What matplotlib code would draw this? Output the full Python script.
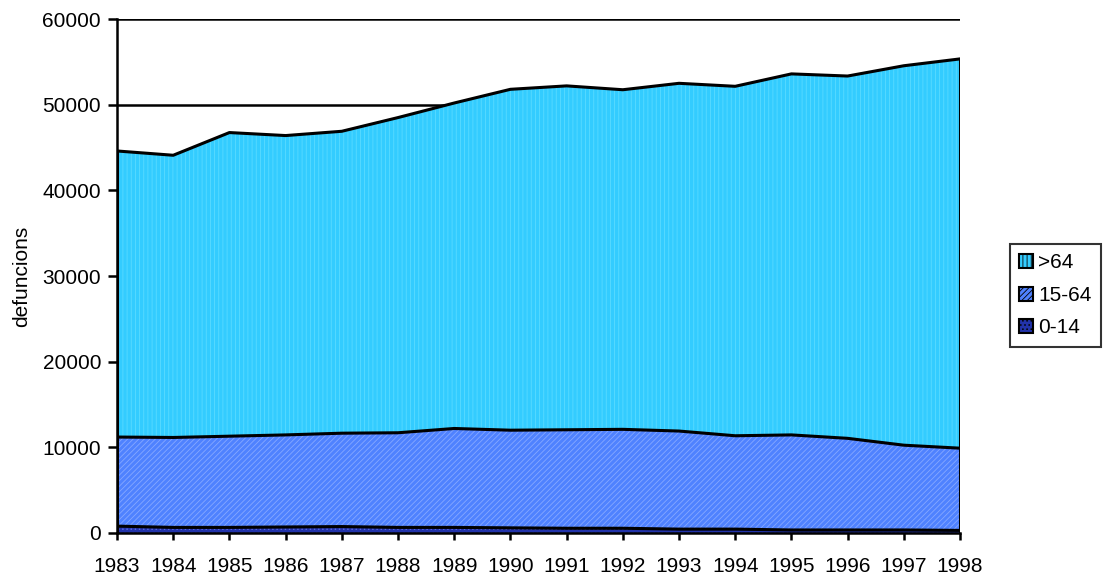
import matplotlib
matplotlib.use("Agg")
import matplotlib.pyplot as plt
import numpy as np
from matplotlib.patches import Patch

years = [1983, 1984, 1985, 1986, 1987, 1988, 1989, 1990, 1991, 1992, 1993, 1994, 1995, 1996, 1997, 1998]
age_0_14 = [800, 650, 650, 700, 750, 650, 650, 600, 550, 550, 450, 450, 350, 350, 350, 300]
age_15_64 = [10400, 10500, 10650, 10750, 10900, 11050, 11550, 11400, 11500, 11550, 11450, 10900, 11100, 10700, 9900, 9600]
age_65_plus = [33400, 32950, 35450, 34950, 35250, 36800, 38000, 39800, 40150, 39650, 40600, 40800, 42150, 42300, 44300, 45450]
labels = [">64", "15-64", "0-14"]
y_ticks = [0, 10000, 20000, 30000, 40000, 50000, 60000]

plt.rcParams['font.family'] = ['Liberation Sans', 'DejaVu Sans']
plt.rcParams['hatch.linewidth'] = 0.6

fig = plt.figure(figsize=(11.06, 5.78), dpi=100)
ax = fig.add_axes([0.1058, 0.0779, 0.868 - 0.1058, 0.967 - 0.0779])

x = np.array(years)
a = np.array(age_0_14)
b = a + np.array(age_15_64)
c = b + np.array(age_65_plus)

for yv in y_ticks[1:]:
    ax.axhline(yv, color='black', lw=1.8, zorder=0)

face = ['#33CCFF', '#4F82FF', '#2233AA']
hcol = ['#5ADBFF', '#86A8FF', '#5566DD']
hatches = ['||||', '//////', '....']

ax.fill_between(x, b, c, facecolor=face[0], edgecolor=hcol[0], hatch=hatches[0], lw=0, zorder=1)
ax.fill_between(x, a, b, facecolor=face[1], edgecolor=hcol[1], hatch=hatches[1], lw=0, zorder=1)
ax.fill_between(x, 0, a, facecolor=face[2], edgecolor=hcol[2], hatch=hatches[2], lw=0, zorder=1)

ax.plot(x, c, color='black', lw=2.2, zorder=3)
ax.plot(x, b, color='black', lw=2.2, zorder=3)
ax.plot(x, a, color='black', lw=2.2, zorder=3)
ax.plot([x[-1], x[-1]], [0, c[-1]], color='black', lw=2.2, zorder=3)
ax.plot([x[0], x[0]], [0, c[0]], color='black', lw=2.2, zorder=3)

ax.set_xlim(years[0], years[-1])
ax.set_ylim(0, 60000)
ax.set_xticks(years)
ax.set_xticklabels([str(y) for y in years])
ax.set_yticks(y_ticks)
ax.set_yticklabels([str(v) for v in y_ticks])
ax.tick_params(axis='both', labelsize=15, direction='out', width=1.8, colors='black')
ax.tick_params(axis='y', length=6.5, pad=5)
ax.tick_params(axis='x', length=5, pad=12)

for s in ['top', 'right']:
    ax.spines[s].set_visible(False)
for s in ['left', 'bottom']:
    ax.spines[s].set_linewidth(1.8)
    ax.spines[s].set_color('black')

ax.set_ylabel('defuncions', fontsize=15, labelpad=8)

handles = [Patch(facecolor=face[i], edgecolor='black', hatch=hatches[i], lw=1.5) for i in range(3)]
leg = fig.legend(handles, labels, loc='upper left', bbox_to_anchor=(1010 / 1106, 1 - 244 / 578),
                 fontsize=15, frameon=True, fancybox=False, edgecolor='black',
                 handlelength=0.65, handleheight=0.65, handletextpad=0.25, labelspacing=0.65,
                 borderpad=0.45, borderaxespad=0)
leg.get_frame().set_linewidth(1.5)

fig.savefig('out.png', dpi=100)
